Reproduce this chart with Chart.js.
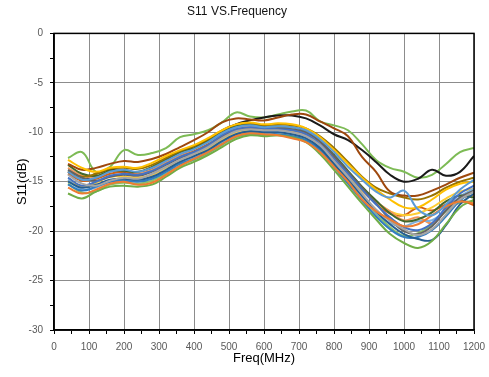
<!DOCTYPE html>
<html>
<head>
<meta charset="utf-8">
<script src="https://cdn.jsdelivr.net/npm/chart.js@4.4.1/dist/chart.umd.min.js"></script>
<style>
  html, body { margin: 0; padding: 0; background: #fff; }
  #wrap { width: 489px; height: 377px; }
</style>
</head>
<body>
<div id="wrap"><canvas id="s11Chart" width="489" height="377"></canvas></div>
<script>
// frequency points (MHz)
const freq = [40, 80, 120, 160, 200, 240, 280, 320, 360, 400, 440, 480, 520, 560, 600,
              640, 680, 720, 760, 800, 840, 880, 920, 960, 1000, 1040, 1080, 1120, 1160, 1200];

// S11 curves (dB)
const s01 = [-14.0, -14.8, -14.6, -14.0, -13.8, -14.0, -13.6, -12.9, -12.2, -11.7, -11.0, -10.1, -9.5, -9.3, -9.5, -9.4, -9.5, -9.8, -10.7, -12.0, -13.5, -14.8, -16.0, -16.6, -15.9, -17.8, -18.4, -17.3, -15.8, -14.8];
const s02 = [-15.6, -16.2, -15.8, -15.2, -15.0, -15.3, -15.1, -14.3, -13.4, -12.7, -12.0, -11.2, -10.4, -10.1, -10.2, -10.3, -10.6, -11.0, -12.0, -13.5, -15.0, -16.8, -18.0, -18.8, -19.5, -19.3, -18.4, -17.5, -17.0, -17.2];
const s03 = [-14.3, -15.2, -15.4, -14.9, -14.6, -14.7, -14.2, -13.5, -12.8, -12.2, -11.5, -10.6, -9.9, -9.7, -9.8, -9.8, -10.0, -10.4, -11.3, -12.9, -14.5, -16.2, -17.8, -19.0, -19.8, -20.4, -19.8, -18.3, -16.8, -16.0];
const s04 = [-12.8, -13.6, -14.0, -13.6, -13.5, -13.6, -13.1, -12.4, -11.8, -11.3, -10.6, -9.8, -9.2, -9.0, -9.2, -9.1, -9.2, -9.6, -10.5, -11.8, -13.2, -14.6, -15.8, -16.8, -17.6, -17.6, -16.8, -15.8, -15.2, -15.0];
const s05 = [-14.6, -15.4, -15.0, -14.4, -14.2, -14.3, -13.9, -13.2, -12.5, -12.0, -11.3, -10.3, -9.7, -9.5, -9.6, -9.7, -9.8, -10.2, -11.2, -12.7, -14.2, -15.8, -17.3, -18.6, -19.6, -19.9, -19.2, -17.6, -16.2, -15.4];
const s06 = [-16.2, -16.7, -16.0, -15.5, -15.4, -15.5, -15.3, -14.5, -13.6, -13.0, -12.3, -11.5, -10.7, -10.3, -10.4, -10.3, -10.5, -11.0, -12.2, -13.8, -15.5, -17.2, -18.8, -20.3, -21.2, -21.7, -21.0, -19.3, -17.6, -16.8];
const s07 = [-15.0, -15.6, -15.3, -14.8, -14.7, -14.8, -14.5, -13.8, -13.0, -12.4, -11.8, -10.9, -10.2, -9.9, -10.0, -10.0, -10.2, -10.6, -11.6, -13.2, -14.8, -16.4, -18.0, -19.3, -20.3, -20.8, -20.9, -19.4, -17.3, -16.2];
const s08 = [-13.2, -13.8, -13.6, -13.2, -12.9, -13.0, -12.7, -12.2, -11.5, -10.8, -10.0, -9.0, -8.6, -8.7, -8.8, -8.5, -8.2, -8.2, -8.9, -9.6, -10.4, -12.5, -14.0, -16.0, -16.4, -16.4, -15.9, -15.3, -14.6, -14.1];
const s09 = [-13.8, -14.6, -14.9, -14.5, -14.3, -14.4, -14.0, -13.3, -12.6, -12.1, -11.4, -10.5, -9.8, -9.6, -9.7, -9.6, -9.7, -10.0, -10.9, -12.4, -14.0, -15.6, -17.2, -18.8, -20.0, -20.3, -19.5, -17.9, -16.6, -15.9];
const s10 = [-13.9, -14.5, -14.2, -13.7, -13.6, -13.7, -13.3, -12.6, -11.9, -11.4, -10.7, -9.8, -9.2, -9.1, -9.3, -9.2, -9.3, -9.6, -10.4, -11.6, -13.0, -14.5, -15.6, -16.2, -16.6, -16.8, -16.4, -15.6, -15.0, -14.6];
const s11 = [-15.3, -15.9, -15.5, -15.0, -14.9, -15.0, -14.7, -14.0, -13.2, -12.7, -12.0, -11.2, -10.4, -10.1, -10.2, -10.2, -10.4, -10.8, -11.8, -13.5, -15.2, -16.9, -18.5, -19.8, -20.6, -20.6, -19.9, -18.5, -16.9, -15.9];
const s12 = [-13.3, -14.2, -14.4, -13.9, -13.9, -14.0, -13.5, -12.7, -12.0, -11.6, -10.9, -10.0, -9.4, -9.2, -9.4, -9.4, -9.5, -9.9, -10.9, -12.3, -13.9, -15.5, -16.9, -18.2, -19.0, -18.8, -18.1, -17.0, -16.4, -16.6];
const s13 = [-14.8, -15.8, -15.6, -15.0, -14.8, -14.9, -14.6, -13.9, -13.1, -12.5, -11.9, -11.0, -10.2, -9.9, -9.9, -9.9, -10.1, -10.5, -11.4, -13.0, -14.7, -16.5, -18.1, -19.2, -19.5, -19.0, -18.9, -17.9, -16.5, -15.7];
const s14 = [-13.6, -14.4, -14.5, -14.0, -13.8, -14.1, -13.8, -13.0, -12.3, -11.7, -11.0, -10.2, -9.6, -9.4, -9.6, -9.5, -9.7, -10.1, -11.0, -12.5, -14.1, -15.7, -17.0, -18.0, -18.9, -18.6, -19.2, -17.9, -16.7, -16.4];
const s15 = [-14.9, -15.5, -15.1, -14.5, -14.5, -14.6, -14.3, -13.6, -12.9, -12.3, -11.6, -10.7, -10.0, -9.8, -9.9, -9.9, -10.0, -10.4, -11.4, -12.9, -14.4, -15.9, -17.1, -18.0, -18.4, -18.2, -17.6, -16.7, -16.0, -15.7];
const s16 = [-14.2, -14.9, -14.7, -14.2, -14.0, -14.2, -13.8, -13.1, -12.4, -11.9, -11.2, -10.4, -9.8, -9.6, -9.8, -9.8, -9.9, -10.3, -11.2, -12.6, -14.3, -15.9, -17.2, -18.2, -18.4, -17.6, -17.9, -17.3, -16.9, -17.4];
const s17 = [-15.2, -16.1, -16.0, -15.3, -15.1, -15.2, -14.9, -14.2, -13.4, -12.8, -12.1, -11.3, -10.5, -10.2, -10.3, -10.3, -10.4, -10.8, -11.8, -13.3, -15.0, -16.6, -18.2, -19.6, -20.5, -20.2, -19.3, -18.0, -17.1, -17.0];
const s18 = [-14.0, -14.8, -14.2, -13.8, -14.0, -14.2, -13.6, -12.8, -12.0, -11.4, -10.8, -10.0, -9.2, -8.8, -8.5, -8.3, -8.3, -8.6, -9.3, -10.2, -10.8, -11.8, -13.0, -14.3, -15.0, -14.7, -13.8, -14.4, -14.0, -12.4];
const s19 = [-12.6, -12.0, -14.0, -13.5, -11.8, -12.3, -12.1, -11.6, -10.5, -10.2, -9.8, -9.0, -8.0, -8.4, -8.5, -8.2, -7.9, -7.8, -8.9, -9.3, -9.8, -11.2, -12.8, -13.6, -14.0, -14.6, -14.3, -13.2, -12.0, -11.6];

const seriesData = [s01, s02, s03, s04, s05, s06, s07, s08, s09, s10, s11, s12, s13, s14, s15, s16, s17, s18, s19];
const seriesColors = ['#5B9BD5', '#ED7D31', '#A5A5A5', '#FFC000', '#4472C4', '#70AD47', '#255E91', '#9E480E',
                      '#636363', '#997300', '#327DC2', '#43682B', '#7CAFDD', '#F1975A', '#FFCD33', '#D26012',
                      '#8CC168', '#1A1A1A', '#7DBB55'];

const datasets = seriesData.map((vals, i) => ({
    label: 'S11-' + (i + 1),
    data: vals.map((v, k) => ({ x: freq[k], y: v })),
    borderColor: seriesColors[i],
    backgroundColor: seriesColors[i],
    borderWidth: 2,
    pointRadius: 0,
    tension: 0.4,
    fill: false
}));

// рамка вокруг области графика
const frame = {
    id: 'frame',
    afterDraw(chart) {
        const a = chart.chartArea;
        const ctx = chart.ctx;
        ctx.save();
        ctx.strokeStyle = '#000';
        ctx.lineWidth = 1.5;
        ctx.strokeRect(a.left, a.top, a.right - a.left, a.bottom - a.top);
        ctx.restore();
    }
};

const ctx = document.getElementById('s11Chart').getContext('2d');
new Chart(ctx, {
    type: 'line',
    data: { datasets: datasets },
    plugins: [frame],
    options: {
        responsive: false,
        animation: false,
        layout: { padding: { left: 0, right: 15, top: 0, bottom: 0 } },
        plugins: {
            legend: { display: false },
            tooltip: { enabled: false },
            title: {
                display: true,
                text: 'S11 VS.Frequency',
                color: '#111',
                font: { family: 'Liberation Sans', size: 12, weight: 'normal' },
                padding: { top: 4, bottom: 15 }
            }
        },
        scales: {
            x: {
                type: 'linear',
                min: 0,
                max: 1200,
                afterFit: s => { s.height = 47; s.paddingLeft = 0; s.paddingRight = 0; },
                ticks: {
                    stepSize: 50,
                    autoSkip: false,
                    maxRotation: 0,
                    padding: 7,
                    color: '#595959',
                    font: { family: 'Liberation Sans', size: 10 },
                    callback: v => (v % 100 === 0 ? String(v) : '')
                },
                grid: {
                    color: c => (c.tick && c.tick.value % 100 === 0 ? '#8c8c8c' : 'rgba(0,0,0,0)'),
                    tickColor: '#000',
                    tickLength: 4,
                    lineWidth: 1
                },
                border: { color: '#000', width: 1.5 },
                title: {
                    display: true,
                    text: 'Freq(MHz)',
                    color: '#000',
                    font: { family: 'Liberation Sans', size: 13 },
                    padding: { top: 2, bottom: 11 }
                }
            },
            y: {
                min: -30,
                max: 0,
                afterFit: s => { s.width = 54; },
                ticks: {
                    stepSize: 2.5,
                    autoSkip: false,
                    padding: 7,
                    color: '#595959',
                    font: { family: 'Liberation Sans', size: 10 },
                    callback: v => (v % 5 === 0 ? String(v) : '')
                },
                grid: {
                    color: c => (c.tick && c.tick.value % 5 === 0 ? '#8c8c8c' : 'rgba(0,0,0,0)'),
                    tickColor: '#000',
                    tickLength: 4,
                    lineWidth: 1
                },
                border: { color: '#000', width: 1.5 },
                title: {
                    display: true,
                    text: 'S11(dB)',
                    color: '#000',
                    font: { family: 'Liberation Sans', size: 13 },
                    padding: { top: 15, bottom: 0 }
                }
            }
        }
    }
});
</script>
</body>
</html>
